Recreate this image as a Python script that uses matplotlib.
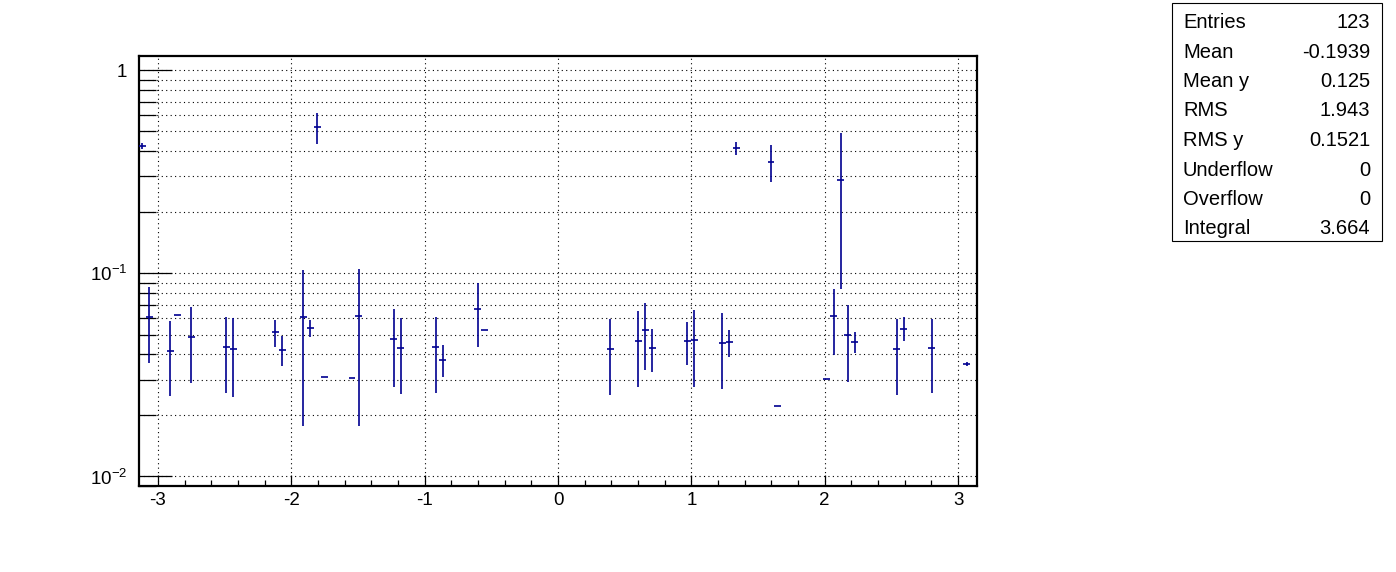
import numpy as np
import matplotlib
matplotlib.use("Agg")
import matplotlib.pyplot as plt
from matplotlib.ticker import FixedLocator, FixedFormatter, MultipleLocator, NullFormatter

plt.rcParams['font.family'] = ['Liberation Sans', 'DejaVu Sans']
plt.rcParams['mathtext.fontset'] = 'custom'
plt.rcParams['mathtext.rm'] = 'Liberation Sans'

# ---- data (120 bins over [-pi, pi]) ----
n_bins = 120
bin_index = [0, 1, 4, 5, 7, 12, 13, 19, 20, 23, 24, 25, 26, 30, 31, 36, 37, 42, 43,
             48, 49, 67, 71, 72, 73, 78, 79, 83, 84, 85, 90, 91, 98, 99, 100, 101,
             102, 108, 109, 113, 118]
values = [0.424, 0.0609, 0.0415, 0.0622, 0.0484, 0.0433, 0.0425, 0.0512, 0.0421,
          0.0608, 0.0536, 0.525, 0.0308, 0.0306, 0.0614, 0.0473, 0.0428, 0.0433,
          0.0375, 0.0667, 0.0525, 0.0423, 0.0464, 0.0525, 0.0429, 0.0464, 0.0468,
          0.0454, 0.0458, 0.414, 0.355, 0.0222, 0.0302, 0.0616, 0.287, 0.0496,
          0.0461, 0.0423, 0.0535, 0.0427, 0.0357]
errors = [0.016, 0.0246, 0.0166, 0.0, 0.0197, 0.0175, 0.018, 0.0076, 0.0072,
          0.043, 0.0052, 0.0907, 0.0, 0.0, 0.0436, 0.0196, 0.0174, 0.0175,
          0.0067, 0.0234, 0.0, 0.0172, 0.0189, 0.019, 0.0102, 0.0111, 0.0192,
          0.0183, 0.0069, 0.032, 0.0745, 0.0, 0.0, 0.022, 0.2028, 0.0204,
          0.0054, 0.0172, 0.0073, 0.0169, 0.0009]

stats_names = ["Entries", "Mean", "Mean y", "RMS", "RMS y", "Underflow", "Overflow", "Integral"]
stats_values = ["123", "-0.1939", "0.125", "1.943", "0.1521", "0", "0", "3.664"]

x_tick_vals = [-3, -2, -1, 0, 1, 2, 3]
y_tick_vals = [0.01, 0.1, 1]
y_tick_labels = [r'$\mathregular{10^{-2}}$', r'$\mathregular{10^{-1}}$', '1']

# ---- figure ----
W, H = 1396, 572
fig = plt.figure(figsize=(W / 100, H / 100), dpi=100)
ax = fig.add_axes([139 / W, 1 - 486 / H, (977 - 139) / W, (486 - 56) / H])

edges = np.linspace(-np.pi, np.pi, n_bins + 1)
centers = 0.5 * (edges[:-1] + edges[1:])
bw = edges[1] - edges[0]
xs = centers[np.array(bin_index)]

col = '#000090'
ax.set_yscale('log')
ax.errorbar(xs, values, xerr=bw / 2, yerr=errors, fmt='none', ecolor=col,
            elinewidth=1.2, capsize=0, zorder=3)

ax.set_xlim(-np.pi, np.pi)
ax.set_ylim(0.008978, 1.1758)

ax.xaxis.set_major_locator(FixedLocator(x_tick_vals))
ax.xaxis.set_minor_locator(MultipleLocator(0.2))
ax.xaxis.set_major_formatter(FixedFormatter([str(v) for v in x_tick_vals]))

minor_y = [m * 10.0 ** d for d in (-3, -2, -1, 0) for m in range(2, 10)]
ax.yaxis.set_major_locator(FixedLocator(y_tick_vals))
ax.yaxis.set_major_formatter(FixedFormatter(y_tick_labels))
ax.yaxis.set_minor_locator(FixedLocator(minor_y))
ax.yaxis.set_minor_formatter(NullFormatter())

dot = (0, (1, 3))
ax.grid(True, which='major', axis='x', color='black', linestyle=dot, linewidth=0.8)
ax.grid(True, which='both', axis='y', color='black', linestyle=dot, linewidth=0.8)
ax.set_axisbelow(True)

ax.tick_params(axis='y', which='major', direction='in', length=24, width=0.9,
               right=False, labelsize=13.5, pad=8.5)
ax.tick_params(axis='y', which='minor', direction='in', length=12, width=0.9, right=False)
ax.tick_params(axis='x', which='major', direction='in', length=8, width=0.9,
               top=False, labelsize=13.5, pad=4)
ax.tick_params(axis='x', which='minor', direction='in', length=4, width=0.9, top=False)

for s in ax.spines.values():
    s.set_linewidth(1.6)

# ---- stats box ----
bx0, bx1, by0, by1 = 1172, 1382, 3, 241
box = plt.Rectangle((bx0 / W, 1 - by1 / H), (bx1 - bx0) / W, (by1 - by0) / H,
                    transform=fig.transFigure, facecolor='white', edgecolor='black',
                    linewidth=0.8)
fig.add_artist(box)
row_base = [28.5, 57.5, 87, 116.5, 146, 175.5, 205, 233.5]
for name, val, ry in zip(stats_names, stats_values, row_base):
    fig.text(1183 / W, 1 - ry / H, name, ha='left', va='baseline', fontsize=14.5)
    fig.text(1370 / W, 1 - ry / H, val, ha='right', va='baseline', fontsize=14.5)

fig.savefig('out.png', dpi=100)
